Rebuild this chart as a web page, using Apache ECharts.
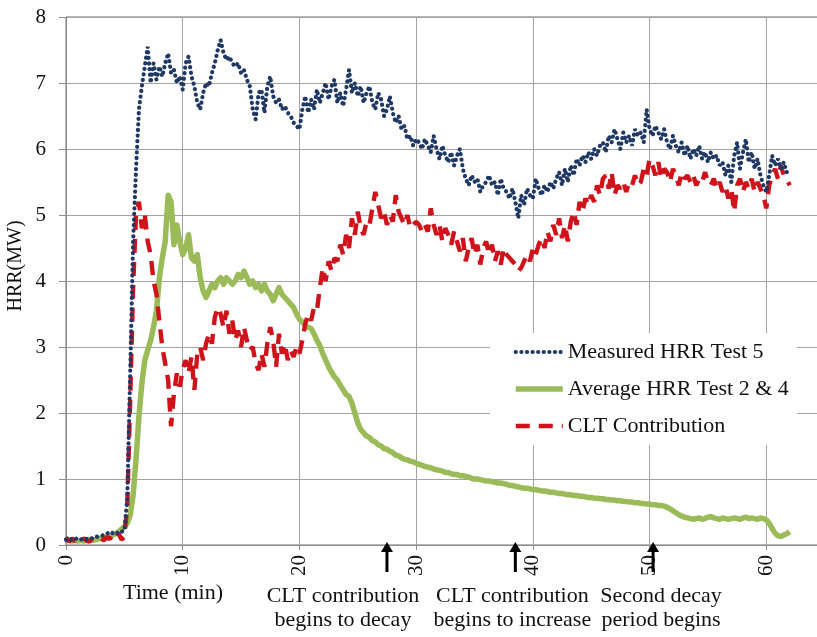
<!DOCTYPE html>
<html>
<head>
<meta charset="utf-8">
<script src="https://cdn.jsdelivr.net/npm/echarts@6/dist/echarts.min.js"></script>
<style>
  html, body { margin: 0; padding: 0; background: #fff; }
  #chart { width: 817px; height: 637px; }
</style>
</head>
<body>
<div id="chart"></div>
<script>
// Heat release rate logs, one sample every 0.25 min from t = 0 to t = 62 min (MW)
const SAMPLE_STEP = 0.25;

const measuredHRR = [
  0.08, 0.1, 0.07, 0.09, 0.1, 0.08, 0.1, 0.09, 0.11, 0.1,
  0.12, 0.13, 0.14, 0.15, 0.17, 0.2, 0.18, 0.2, 0.17, 0.2,
  0.22, 0.7, 2.6, 4.6, 5.7, 6.6, 6.95, 7.25, 7.55, 7.0,
  7.3, 7.05, 7.25, 7.1, 7.3, 7.45, 7.15, 7.2, 7.0, 7.1,
  6.9, 7.3, 7.4, 7.1, 6.95, 6.7, 6.6, 6.85, 7.0, 6.95,
  7.15, 7.3, 7.5, 7.65, 7.45, 7.35, 7.4, 7.3, 7.25, 7.3,
  7.15, 7.2, 7.05, 6.95, 6.6, 6.45, 6.85, 6.9, 6.55, 6.95,
  7.1, 6.8, 6.7, 6.75, 6.6, 6.65, 6.55, 6.5, 6.4, 6.35,
  6.3, 6.6, 6.8, 6.55, 6.75, 6.6, 6.9, 6.7, 6.85, 7.0,
  6.75, 6.95, 7.05, 6.7, 6.85, 6.65, 6.9, 7.2, 6.85, 7.0,
  6.8, 6.95, 6.7, 6.85, 6.95, 6.7, 6.6, 6.85, 6.75, 6.5,
  6.6, 6.8, 6.55, 6.4, 6.5, 6.3, 6.35, 6.15, 6.2, 6.05,
  6.15, 6.1, 6.0, 6.15, 6.05, 5.95, 6.2, 6.0, 5.85, 6.05,
  5.9, 5.8, 5.95, 5.75, 5.9, 6.0, 5.7, 5.55, 5.45, 5.6,
  5.5, 5.55, 5.35, 5.45, 5.5, 5.6, 5.45, 5.5, 5.3, 5.55,
  5.4, 5.35, 5.25, 5.4, 5.2, 4.95, 5.3, 5.15, 5.4, 5.3,
  5.25, 5.55, 5.4, 5.3, 5.45, 5.35, 5.5, 5.4, 5.55, 5.65,
  5.45, 5.7, 5.5, 5.75, 5.6, 5.85, 5.75, 5.9, 5.8, 5.95,
  5.85, 6.0, 5.9, 6.05, 6.1, 5.95, 6.2, 6.1, 6.3, 6.15,
  6.0, 6.25, 6.1, 6.2, 6.05, 6.3, 6.2, 6.25, 6.1, 6.6,
  6.3, 6.2, 6.35, 6.25, 6.15, 6.3, 6.1, 6.0, 6.2, 6.05,
  5.95, 6.1, 5.9, 6.05, 5.85, 6.0, 5.9, 6.05, 5.85, 5.95,
  5.8, 5.95, 5.85, 5.9, 5.75, 5.8, 5.6, 5.75, 5.5, 5.9,
  6.1, 5.7, 5.95, 6.15, 5.8, 5.95, 5.7, 5.85, 5.6, 5.45,
  5.35, 5.6, 5.9, 5.75, 5.85, 5.7, 5.8, 5.65, 5.7
];

const averageHRR = [
  0.08, 0.07, 0.06, 0.07, 0.06, 0.07, 0.06, 0.07, 0.08, 0.07,
  0.08, 0.09, 0.1, 0.11, 0.12, 0.13, 0.15, 0.17, 0.2, 0.24,
  0.28, 0.33, 0.45, 0.75, 1.3, 1.95, 2.45, 2.8, 2.95, 3.1,
  3.3, 3.55, 4.05, 4.35, 4.6, 5.3, 5.2, 4.55, 4.85, 4.6,
  4.4, 4.5, 4.7, 4.35, 4.3, 4.4, 4.05, 3.85, 3.75, 3.85,
  3.95, 3.9, 4.0, 4.05, 3.95, 4.05, 4.0, 3.95, 4.0, 4.1,
  4.05, 4.15, 4.05, 3.95, 4.0, 3.9, 3.95, 3.85, 3.95, 3.85,
  3.8, 3.7, 3.8, 3.9, 3.8, 3.75, 3.7, 3.65, 3.6, 3.5,
  3.42, 3.38, 3.32, 3.3, 3.28, 3.2, 3.1, 3.02, 2.9, 2.8,
  2.7, 2.62, 2.55, 2.5, 2.42, 2.35, 2.28, 2.25, 2.15, 2.0,
  1.85, 1.75, 1.7, 1.65, 1.63, 1.58, 1.56, 1.52, 1.5, 1.46,
  1.45, 1.42, 1.4, 1.36, 1.35, 1.32, 1.3, 1.29, 1.27, 1.26,
  1.24, 1.22, 1.21, 1.19, 1.18, 1.17, 1.15, 1.14, 1.13, 1.12,
  1.1, 1.1, 1.08, 1.07, 1.07, 1.05, 1.05, 1.04, 1.03, 1.01,
  1.0, 1.0, 0.99, 0.98, 0.97, 0.97, 0.96, 0.95, 0.94, 0.94,
  0.93, 0.92, 0.9, 0.9, 0.89, 0.88, 0.87, 0.86, 0.86, 0.85,
  0.84, 0.84, 0.83, 0.82, 0.82, 0.81, 0.8, 0.8, 0.79, 0.78,
  0.78, 0.77, 0.76, 0.76, 0.75, 0.75, 0.74, 0.74, 0.73, 0.72,
  0.72, 0.71, 0.71, 0.7, 0.7, 0.69, 0.69, 0.68, 0.68, 0.67,
  0.67, 0.66, 0.66, 0.65, 0.65, 0.64, 0.64, 0.63, 0.63, 0.62,
  0.62, 0.61, 0.61, 0.6, 0.6, 0.59, 0.57, 0.55, 0.52, 0.49,
  0.46, 0.44, 0.42, 0.41, 0.4, 0.39, 0.4, 0.41, 0.39, 0.4,
  0.42, 0.43, 0.41, 0.4, 0.39, 0.41, 0.4, 0.39, 0.4, 0.41,
  0.4, 0.39, 0.41, 0.42, 0.4, 0.41, 0.4, 0.39, 0.41, 0.4,
  0.38, 0.33, 0.25, 0.18, 0.14, 0.13, 0.15, 0.17, 0.2
];

const cltContribution = [
  0.12, 0.05, 0.1, 0.06, 0.08, 0.05, 0.1, 0.07, 0.05, 0.09,
  0.06, 0.08, 0.1, 0.07, 0.12, 0.09, 0.15, 0.1, 0.18, 0.08,
  0.12, 0.6, 2.2, 3.9, 5.0, 5.2, 4.8, 5.0, 4.6, 4.4,
  4.0, 3.8, 3.4, 3.0, 2.75, 2.5, 1.8, 2.3, 2.6, 2.4,
  2.65, 2.8, 2.6, 2.85, 2.35, 2.9, 3.0, 2.8, 3.05, 3.2,
  3.05, 3.45, 3.6, 3.5, 3.3, 3.55, 3.2, 3.4, 3.1, 3.25,
  3.0, 3.3, 3.1, 2.95, 3.0, 2.75, 2.65, 2.9, 2.7, 3.05,
  3.3, 3.1, 2.7, 3.2, 2.9, 3.05, 2.8, 2.95, 2.85, 3.0,
  2.9, 3.1, 3.35, 3.5, 3.4, 3.6, 3.55, 3.9, 4.2, 4.0,
  4.3, 4.15, 4.35, 4.3, 4.55, 4.4, 4.7, 4.5, 4.95, 4.7,
  5.05, 4.8, 4.7, 4.9, 4.85, 5.1, 5.35, 5.15, 4.95, 5.05,
  4.85, 5.0, 4.9, 5.3, 5.05, 4.95, 4.85, 5.0, 4.8, 4.85,
  4.9, 4.85, 4.75, 4.85, 4.75, 5.1, 4.85, 4.7, 4.85, 4.6,
  4.8, 4.7, 4.55, 4.75, 4.6, 4.45, 4.65, 4.3, 4.5, 4.65,
  4.4, 4.55, 4.25, 4.5, 4.6, 4.4, 4.55, 4.3, 4.45, 4.25,
  4.5, 4.4, 4.35, 4.3, 4.25, 4.15, 4.2, 4.3, 4.4, 4.3,
  4.5, 4.4, 4.55, 4.65, 4.5, 4.75, 4.6, 4.85, 4.7, 4.95,
  4.65, 4.85, 4.6, 4.9, 5.05, 4.85, 5.2, 5.05, 5.25, 5.15,
  5.3, 5.2, 5.45, 5.3, 5.55, 5.6, 5.4, 5.65, 5.3, 5.45,
  5.4, 5.5, 5.35, 5.5, 5.45, 5.6, 5.45, 5.5, 5.7, 5.6,
  5.85, 5.75, 5.6, 5.8, 5.55, 5.7, 5.65, 5.5, 5.7, 5.6,
  5.45, 5.65, 5.55, 5.6, 5.5, 5.6, 5.45, 5.55, 5.5, 5.65,
  5.5, 5.45, 5.55, 5.4, 5.5, 5.35, 5.45, 5.25, 5.4, 5.05,
  5.45, 5.55, 5.35, 5.5, 5.4, 5.55, 5.35, 5.5, 5.4, 5.3,
  5.1, 5.45, 5.6, 5.7, 5.55, 5.75, 5.6, 5.55, 5.45
];

const seriesNames = ['Measured HRR Test 5', 'Average HRR Test 2 & 4', 'CLT Contribution'];

// Phases of the fire marked under the time axis (minutes)
const eventMinutes = [27.5, 38.5, 50.3];
const eventLabels = [
  ['CLT contribution', 'begins to decay'],
  ['CLT contribution', 'begins to increase'],
  ['Second decay', 'period begins']
];

const xAxisRange = [0, 70];
const yAxisRange = [0, 8];

const SERIF = "'Liberation Serif', 'Times New Roman', serif";
const TEXT = '#111';

const toPairs = values => values.map((v, i) => [i * SAMPLE_STEP, v]);

const chart = echarts.init(document.getElementById('chart'), null, { renderer: 'canvas' });

chart.setOption({
  backgroundColor: '#fff',
  animation: false,
  grid: {
    left: 66, top: 17, width: 817, height: 528,
    show: true, borderColor: '#6e6e6e', borderWidth: 1,
    outerBoundsMode: 'none', containLabel: false
  },
  legend: {
    orient: 'vertical',
    left: 490, top: 333,
    backgroundColor: '#fff',
    padding: [6, 8, 6, 23],
    itemGap: 11,
    itemWidth: 47,
    itemHeight: 14,
    lineStyle: { width: 'inherit' },
    itemStyle: { opacity: 0 },
    textStyle: { fontFamily: SERIF, fontSize: 22, color: TEXT, lineHeight: 26 },
    data: seriesNames
  },
  xAxis: {
    type: 'value',
    min: xAxisRange[0], max: xAxisRange[1], interval: 10,
    axisLine: { lineStyle: { color: '#8c8c8c', width: 1 } },
    axisTick: { show: true, length: 5, lineStyle: { color: '#8c8c8c' } },
    splitLine: { show: true, lineStyle: { color: '#a3a3a3', width: 1 } },
    axisLabel: { rotate: 90, margin: 10, fontFamily: SERIF, fontSize: 21, color: TEXT }
  },
  yAxis: {
    type: 'value',
    min: yAxisRange[0], max: yAxisRange[1], interval: 1,
    axisLine: { show: true, lineStyle: { color: '#8c8c8c', width: 1 } },
    axisTick: { show: true, length: 7, lineStyle: { color: '#8c8c8c' } },
    splitLine: { show: true, lineStyle: { color: '#a3a3a3', width: 1 } },
    axisLabel: { margin: 20, fontFamily: SERIF, fontSize: 21, color: TEXT }
  },
  series: [
    {
      name: seriesNames[0],
      type: 'line',
      data: toPairs(measuredHRR),
      showSymbol: false, symbol: 'none',
      z: 4,
      lineStyle: { color: '#1f3864', width: 4.2, type: [0.1, 5.5], cap: 'round' },
      itemStyle: { color: '#1f3864' }
    },
    {
      name: seriesNames[1],
      type: 'line',
      data: toPairs(averageHRR),
      showSymbol: false, symbol: 'none',
      z: 2,
      lineStyle: { color: '#9bbb59', width: 5.5, join: 'round' },
      itemStyle: { color: '#9bbb59' }
    },
    {
      name: seriesNames[2],
      type: 'line',
      data: toPairs(cltContribution),
      showSymbol: false, symbol: 'none',
      z: 3,
      lineStyle: { color: '#d0121b', width: 4.4, type: [14, 9] },
      itemStyle: { color: '#d0121b' }
    }
  ]
});

// Axis titles and phase annotations, placed from axis coordinates
const origin = chart.convertToPixel({ gridIndex: 0 }, [0, 0]);
const labelOffsets = [-44, -3, 8];
const graphics = [
  {
    type: 'text', x: 16, y: 266, rotation: Math.PI / 2,
    style: { text: 'HRR(MW)', font: '20px ' + SERIF, fill: TEXT, textAlign: 'center', textVerticalAlign: 'middle' }
  },
  {
    type: 'text', x: 173, y: 593,
    style: { text: 'Time (min)', font: '22px ' + SERIF, fill: TEXT, textAlign: 'center', textVerticalAlign: 'middle' }
  }
];

eventMinutes.forEach((t, i) => {
  const px = chart.convertToPixel({ gridIndex: 0 }, [t, 0])[0];
  const baseY = origin[1];
  graphics.push({
    type: 'line', z: 10,
    shape: { x1: px, y1: baseY + 27, x2: px, y2: baseY + 5 },
    style: { stroke: '#000', lineWidth: 3 }
  });
  graphics.push({
    type: 'polygon', z: 10,
    shape: { points: [[px - 6, baseY + 7], [px + 6, baseY + 7], [px, baseY - 3]] },
    style: { fill: '#000' }
  });
  eventLabels[i].forEach((line, k) => {
    graphics.push({
      type: 'text', x: px + labelOffsets[i], y: 596 + k * 24,
      style: { text: line, font: '22px ' + SERIF, fill: TEXT, textAlign: 'center', textVerticalAlign: 'middle' }
    });
  });
});

chart.setOption({ graphic: graphics });
</script>
</body>
</html>
